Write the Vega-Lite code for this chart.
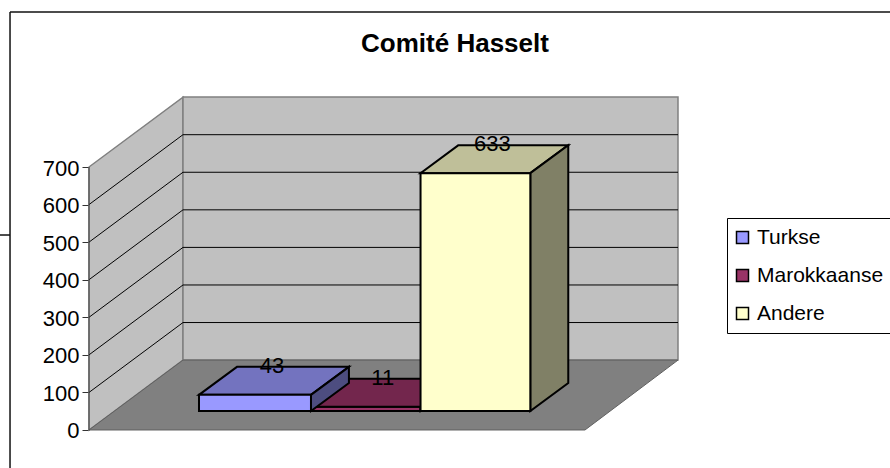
{
"$schema":"https://vega.github.io/schema/vega-lite/v6.json",
"width":890,"height":468,"padding":0,"autosize":{"type":"none"},"background":"white",
"config":{"view":{"stroke":null},"font":"Liberation Sans"},
"title":{"text":"Comité Hasselt","anchor":"middle","dx":10,"dy":61,"fontSize":26,"fontWeight":"bold","font":"Liberation Sans","color":"#000000"},
"datasets":{
"bars":[{"name":"Turkse","value":43,"x0":1.0,"x1":2.018,"label_x":1.509},{"name":"Marokkaanse","value":11,"x0":2.018,"x1":3.014,"label_x":2.516},{"name":"Andere","value":633,"x0":3.014,"x1":4.012,"label_x":3.513}],
"tops":[
{"name":"Turkse","y":93.6,"xa":1.0,"xb":2.018},{"name":"Turkse","y":168.1,"xa":1.345,"xb":2.363},
{"name":"Marokkaanse","y":61.6,"xa":2.018,"xb":3.014},{"name":"Marokkaanse","y":136.1,"xa":2.363,"xb":3.359},
{"name":"Andere","y":683.6,"xa":3.014,"xb":4.012},{"name":"Andere","y":758.1,"xa":3.359,"xb":4.357}],
"sides":[
{"name":"Turkse","x":2.018,"ya":93.6,"yb":50.6},{"name":"Turkse","x":2.363,"ya":168.1,"yb":125.1},
{"name":"Marokkaanse","x":3.014,"ya":61.6,"yb":50.6},{"name":"Marokkaanse","x":3.359,"ya":136.1,"yb":125.1},
{"name":"Andere","x":4.012,"ya":683.6,"yb":50.6},{"name":"Andere","x":4.357,"ya":758.1,"yb":125.1}],
"grid":[
{"v":100,"x":0,"y":100},{"v":100,"x":0.8545,"y":286},{"v":100,"x":5.3545,"y":286},
{"v":200,"x":0,"y":200},{"v":200,"x":0.8545,"y":386},{"v":200,"x":5.3545,"y":386},
{"v":300,"x":0,"y":300},{"v":300,"x":0.8545,"y":486},{"v":300,"x":5.3545,"y":486},
{"v":400,"x":0,"y":400},{"v":400,"x":0.8545,"y":586},{"v":400,"x":5.3545,"y":586},
{"v":500,"x":0,"y":500},{"v":500,"x":0.8545,"y":686},{"v":500,"x":5.3545,"y":686},
{"v":600,"x":0,"y":600},{"v":600,"x":0.8545,"y":786},{"v":600,"x":5.3545,"y":786}],
"frame":[
{"x":-0.718,"x2":-0.718,"y":-101.15,"y2":1112.6},
{"x":-0.718,"x2":7.2818,"y":1112.6,"y2":1112.6},
{"x":-0.8091,"x2":-0.718,"y":519,"y2":519}]
},
"layer":[
{"data":{"name":"frame"},"mark":{"type":"rule","stroke":"#111111","strokeWidth":1.5},
 "encoding":{"x":{"field":"x","type":"quantitative","axis":null,"scale":{"domain":[-0.80909,7.28182],"range":[0,890],"nice":false,"zero":false}},"x2":{"field":"x2"},
 "y":{"field":"y","type":"quantitative","scale":{"domain":[-101.15,1144.5],"range":[468,0],"nice":false,"zero":false},
  "axis":{"title":null,"orient":"left","offset":-89,"values":[0,100,200,300,400,500,600,700],"domain":false,"grid":false,"tickSize":7,"tickColor":"#333333","tickWidth":1,"labelFontSize":22,"labelColor":"#000000","labelPadding":3,"labelOffset":1,"labelFont":"Liberation Sans"}},"y2":{"field":"y2"}}},
{"data":{"values":[{"x":0,"y":700,"y2":0},{"x":0.8545,"y":886,"y2":186}]},"mark":{"type":"area","fill":"#C0C0C0","stroke":"#808080","strokeWidth":1.5},
 "encoding":{"x":{"field":"x","type":"quantitative"},"y":{"field":"y","type":"quantitative"},"y2":{"field":"y2"}}},
{"data":{"values":[{"x":0.8545,"x2":5.3545,"y":886,"y2":186}]},"mark":{"type":"rect","fill":"#C0C0C0","stroke":"#808080","strokeWidth":1.5},
 "encoding":{"x":{"field":"x","type":"quantitative"},"x2":{"field":"x2"},"y":{"field":"y","type":"quantitative"},"y2":{"field":"y2"}}},
{"data":{"values":[{"y":0,"xa":0,"xb":4.509},{"y":186,"xa":0.8545,"xb":5.3545}]},"mark":{"type":"area","orient":"horizontal","fill":"#808080","stroke":"#606060","strokeWidth":1},
 "encoding":{"y":{"field":"y","type":"quantitative"},"x":{"field":"xa","type":"quantitative"},"x2":{"field":"xb"}}},
{"data":{"name":"grid"},"mark":{"type":"line","stroke":"#000000","strokeWidth":1},
 "encoding":{"x":{"field":"x","type":"quantitative"},"y":{"field":"y","type":"quantitative"},"detail":{"field":"v"}}},
{"data":{"values":[{"x":0,"y":0,"y2":700}]},"mark":{"type":"rule","stroke":"#444444","strokeWidth":1},
 "encoding":{"x":{"field":"x","type":"quantitative"},"y":{"field":"y","type":"quantitative"},"y2":{"field":"y2"}}},
{"data":{"name":"bars"},"transform":[{"filter":"datum.name==='Marokkaanse'"}],"mark":{"type":"rect","stroke":"#000000","strokeWidth":2,"yOffset":-19,"y2Offset":-19},
 "encoding":{"x":{"field":"x0","type":"quantitative"},"x2":{"field":"x1"},"y":{"field":"value","type":"quantitative"},"y2":{"datum":0},
 "color":{"field":"name","type":"nominal","legend":null,"scale":{"domain":["Turkse","Marokkaanse","Andere"],"range":["#9999FF","#993366","#FFFFCC"]}}}},
{"data":{"name":"tops"},"mark":{"type":"area","orient":"horizontal","stroke":"#000000","strokeWidth":2},
 "encoding":{"y":{"field":"y","type":"quantitative"},"x":{"field":"xa","type":"quantitative"},"x2":{"field":"xb"},
 "color":{"field":"name","type":"nominal","legend":null,"scale":{"domain":["Turkse","Marokkaanse","Andere"],"range":["#7373BF","#73264D","#BFBF99"]}}}},
{"data":{"name":"sides"},"mark":{"type":"area","stroke":"#000000","strokeWidth":2},
 "encoding":{"x":{"field":"x","type":"quantitative"},"y":{"field":"ya","type":"quantitative"},"y2":{"field":"yb"},
 "color":{"field":"name","type":"nominal","legend":null,"scale":{"domain":["Turkse","Marokkaanse","Andere"],"range":["#4D4D80","#4D1A33","#808066"]}}}},
{"data":{"name":"bars"},"transform":[{"filter":"datum.name!=='Marokkaanse'"}],"mark":{"type":"rect","stroke":"#000000","strokeWidth":2,"yOffset":-19,"y2Offset":-19},
 "encoding":{"x":{"field":"x0","type":"quantitative"},"x2":{"field":"x1"},"y":{"field":"value","type":"quantitative"},"y2":{"datum":0},
 "color":{"field":"name","type":"nominal","scale":{"domain":["Turkse","Marokkaanse","Andere"],"range":["#9999FF","#993366","#FFFFCC"]},
  "legend":{"title":null,"orient":"none","legendX":727,"legendY":218,"fillColor":"#FFFFFF","strokeColor":"#000000","padding":9,"symbolType":"square","symbolSize":144,"symbolOffset":-4,"symbolStrokeColor":"#000000","symbolStrokeWidth":1.5,"labelFontSize":21,"labelFont":"Liberation Sans","labelColor":"#000000","labelOffset":4,"rowPadding":16,"labelLimit":400}}}},
{"data":{"name":"bars"},"mark":{"type":"text","fontSize":22,"font":"Liberation Sans","color":"#000000","baseline":"middle","align":"center","xOffset":17,"yOffset":-48},
 "encoding":{"x":{"field":"label_x","type":"quantitative"},"y":{"field":"value","type":"quantitative"},"text":{"field":"value","type":"quantitative"}}}
],
"resolve":{"scale":{"color":"independent"}}
}
